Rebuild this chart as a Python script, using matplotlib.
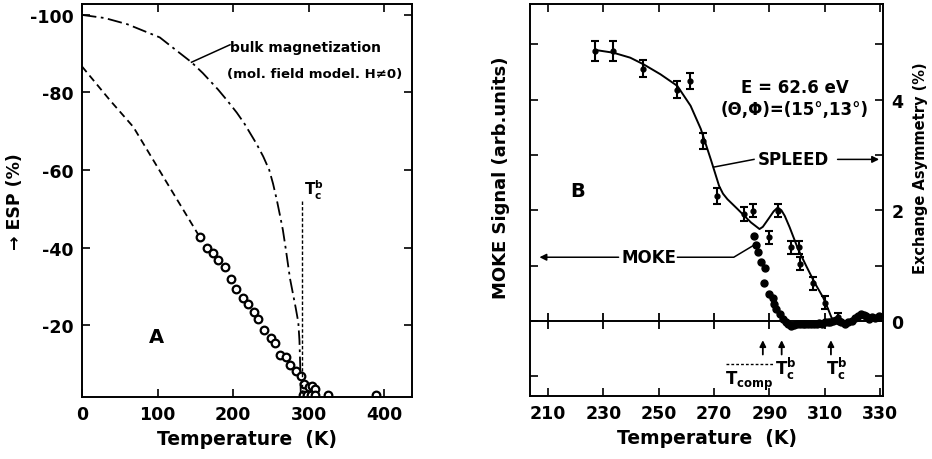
import numpy as np
import matplotlib.pyplot as plt

plt.rcParams['font.family'] = ['DejaVu Sans']
plt.rcParams['font.weight'] = 'bold'
plt.rcParams['axes.labelweight'] = 'bold'
plt.rcParams['axes.unicode_minus'] = False
plt.rcParams['mathtext.fontset'] = 'custom'
plt.rcParams['mathtext.rm'] = 'DejaVu Sans:bold'
plt.rcParams['mathtext.default'] = 'rm'

# ---------------- panel A data ----------------
bulk_T = [0, 30, 60, 103, 120, 145, 160, 180, 192, 205, 215, 231, 240, 248, 253, 258,
          262, 266, 270, 275.5, 280, 283, 286.5, 288, 289, 290]
bulk_esp = [-100, -99.2, -97.6, -94.2, -91.6, -87.8, -85, -80.8, -78, -74.8, -72, -66.8,
            -63.5, -60, -56.5, -52.3, -48.5, -44.6, -39.5, -32, -27.5, -24.5, -20.7, -16,
            -9.6, 0]

extrap_T = [0, 37, 68, 110, 156]
extrap_esp = [-86.7, -78, -71.1, -57.5, -42.7]

esp_T = [156, 166, 173, 180.5, 190, 197, 203.5, 213.7, 220, 227.8, 233.5, 241, 250, 255.6,
         262, 270, 276, 283, 289.7, 294, 300, 304, 308, 293, 298, 303, 309, 326, 390]
esp_val = [-42.7, -39.9, -38.6, -36.9, -35, -31.8, -29.2, -27.1, -25.4, -23.4, -21.7, -18.8,
           -16.6, -15.4, -12.3, -11.7, -9.7, -8.3, -7, -4.9, -4, -4.3, -3.5, -2, -2, -2, -2, -1.9, -1.9]

tc_bulk = 291

# ---------------- panel B data ----------------
spleed_T = [227, 233.4, 244.3, 256.7, 261.3, 266, 271.2, 280.7, 284, 290, 293.1, 297.7,
            300.7, 301.2, 305.8, 310, 314.6]
spleed_y = [4.88, 4.88, 4.56, 4.18, 4.34, 3.25, 2.26, 1.93, 1.99, 1.51, 1.99, 1.33,
            1.33, 1.03, 0.68, 0.33, 0.06]
spleed_err = [0.18, 0.18, 0.15, 0.15, 0.14, 0.14, 0.15, 0.12, 0.12, 0.12, 0.12, 0.12,
              0.12, 0.12, 0.12, 0.12, 0.08]

fit_T = [227, 233.6, 239.7, 244.5, 250.6, 256.7, 261.5, 265.2, 268.8, 270.3, 271.8, 273.2,
         274.8, 278.5, 283.3, 286.4, 287.6, 290, 291.5, 293, 294.3, 295.5, 297.3, 300.3,
         303.3, 306.3, 309.4, 311.2, 312.4, 313]
fit_y = [4.9, 4.85, 4.76, 4.64, 4.46, 4.25, 3.89, 3.47, 2.92, 2.68, 2.44, 2.3,
         2.2, 2.02, 1.78, 1.66, 1.7, 1.87, 1.98, 2.05, 2.0, 1.9, 1.69, 1.3,
         0.99, 0.69, 0.42, 0.21, 0.06, 0.0]

moke_T = [284.3, 285.1, 285.7, 287.0, 288.5, 288.0, 290.0, 291.2, 291.8, 292.5, 293.7, 295.0,
          296.0, 296.7, 297.9, 299, 300, 301, 302, 303, 304, 305, 306, 307, 308, 309, 310,
          311, 312, 313, 314, 315, 316, 317.3, 318.5, 319.7, 321, 322, 323, 324, 325, 326,
          327, 328, 329.4]
moke_y = [1.54, 1.37, 1.24, 1.06, 0.95, 0.69, 0.48, 0.42, 0.30, 0.21, 0.12, 0.03,
          -0.02, -0.06, -0.09, -0.07, -0.06, -0.06, -0.05, -0.06, -0.05, -0.06, -0.05, -0.05,
          -0.04, -0.05, -0.03, -0.02, -0.03, 0.0, 0.02, 0.0, -0.03, -0.06, -0.02, 0.0, 0.05,
          0.09, 0.12, 0.1, 0.08, 0.04, 0.06, 0.05, 0.09]

fig = plt.figure(figsize=(9.32, 4.6), dpi=100)

#--------------------------------
# panel A
#--------------------------------
ax = fig.add_axes([0.088, 0.135, 0.354, 0.854])
ax.plot(bulk_T, bulk_esp, color='black', lw=1.3, linestyle=(0, (8, 2.5, 1.5, 2.5)))
ax.plot(extrap_T, extrap_esp, color='black', lw=1.3, linestyle=(0, (4, 2.5)))
ax.plot(esp_T, esp_val, 'o', mfc='white', mec='black', mew=1.6, ms=5.5, ls='none')
ax.plot([tc_bulk, tc_bulk], [-52, 0], color='black', lw=1, linestyle=(0, (2.5, 1.5)))

ax.set_xlim(0, 437)
ax.set_ylim(-1.5, -102.8)
ax.set_xticks([0, 100, 200, 300, 400])
ax.set_yticks([-100, -80, -60, -40, -20])
ax.tick_params(direction='in', length=6, width=1.2, top=True, right=True, labelsize=12.5, pad=6)
for s in ax.spines.values():
    s.set_linewidth(1.4)
ax.set_xlabel('Temperature  (K)', fontsize=13.5, labelpad=4)
ax.set_ylabel('\u2192 ESP (%)', fontsize=12.5)
ax.yaxis.set_label_coords(-0.175, 0.5)

ax.text(99, -17, 'A', fontsize=14, ha='center', va='center')
ax.text(tc_bulk + 3, -55, '$T_c^b$', fontsize=11, ha='left', va='center')
ax.text(196, -91.8, 'bulk magnetization', fontsize=10, ha='left', va='center')
ax.text(192, -85, '(mol. field model. H\u22600)', fontsize=9.5, ha='left', va='center')
ax.plot([196, 145], [-92.3, -87.8], color='black', lw=1.1)

#--------------------------------
# panel B
#--------------------------------
bx = fig.add_axes([0.5687, 0.137, 0.3787, 0.852])
bx.plot(fit_T, fit_y, color='black', lw=1.4)
bx.errorbar(spleed_T, spleed_y, yerr=spleed_err, fmt='o', color='black', ms=3.5,
            elinewidth=1.5, capsize=2.6, capthick=1.5)
bx.plot(moke_T, moke_y, 'o', color='black', ms=5, ls='none')

ylo, yhi = -1.36, 5.73
bx.set_xlim(203.5, 331)
bx.set_ylim(ylo, yhi)
bx.axhline(0, color='black', lw=1.4)
zx = bx.secondary_xaxis((0 - ylo) / (yhi - ylo))
zx.set_xticks([210, 230, 250, 270, 290, 310])
zx.tick_params(direction='inout', length=11, width=1.3, labelbottom=False, labeltop=False)
zx.spines['bottom'].set_visible(False)
zx.spines['top'].set_visible(False)

bx.set_xticks([210, 230, 250, 270, 290, 310, 330])
bx.set_yticks([-1, 0, 1, 2, 3, 4, 5])
bx.set_yticklabels(['', '0', '', '2', '', '4', ''])
bx.tick_params(direction='in', length=6, width=1.2, top=True, right=True,
               labelleft=False, labelright=True, labelsize=12.5, pad=6)
for s in bx.spines.values():
    s.set_linewidth(1.4)
bx.set_xlabel('Temperature  (K)', fontsize=13.5, labelpad=4)
bx.set_ylabel('MOKE Signal (arb.units)', fontsize=13)
bx.yaxis.set_label_coords(-0.057, 0.56)
bx.text(1.105, 0.583, 'Exchange Asymmetry (%)', fontsize=10.5, rotation=90,
        ha='center', va='center', transform=bx.transAxes)

bx.text(220.7, 2.35, 'B', fontsize=14, ha='center', va='center')
bx.text(299, 4.23, 'E = 62.6 eV', fontsize=12, ha='center', va='center')
bx.text(299, 3.83, '(\u0398,\u03a6)=(15\u00b0,13\u00b0)', fontsize=12, ha='center', va='center')

# SPLEED label and arrow
bx.text(298.5, 2.92, 'SPLEED', fontsize=12, ha='center', va='center')
bx.plot([269.8, 284.4], [2.78, 2.92], color='black', lw=1.1)
bx.annotate('', xy=(330.6, 2.92), xytext=(313.6, 2.92),
            arrowprops=dict(arrowstyle='-|>', color='black', lw=1.1, mutation_scale=10))

# MOKE label and arrow
bx.text(246.3, 1.15, 'MOKE', fontsize=12, ha='center', va='center')
bx.plot([256.8, 277.1, 285.1], [1.15, 1.15, 1.39], color='black', lw=1.1)
bx.annotate('', xy=(205.9, 1.15), xytext=(236.5, 1.15),
            arrowprops=dict(arrowstyle='-|>', color='black', lw=1.1, mutation_scale=10))

# transition temperature markers
for tx in [287.6, 294.4, 312.2]:
    bx.annotate('', xy=(tx, -0.3), xytext=(tx, -0.66),
                arrowprops=dict(arrowstyle='-|>', color='black', lw=1.3, mutation_scale=9))
bx.text(296.0, -0.85, '$T_c^b$', fontsize=12, ha='center', va='center')
bx.text(314.4, -0.85, '$T_c^b$', fontsize=12, ha='center', va='center')
bx.plot([274.2, 291.3], [-0.78, -0.78], color='black', lw=1, linestyle=(0, (2, 1.5)))
bx.text(282.6, -1.07, '$T_{comp}$', fontsize=12, ha='center', va='center')

fig.savefig('out.png', dpi=100)
